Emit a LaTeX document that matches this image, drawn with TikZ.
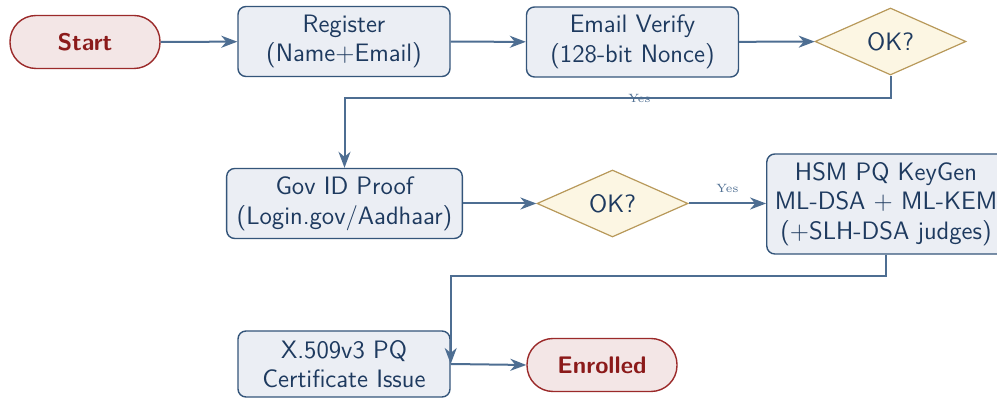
\documentclass[tikz,border=0pt]{standalone}
\usetikzlibrary{shapes.geometric,arrows.meta}
\definecolor{procfill}{HTML}{EBEEF4}
\definecolor{procdraw}{HTML}{34557A}
\definecolor{txt}{HTML}{1E3A5F}
\definecolor{termfill}{HTML}{F3E6E6}
\definecolor{termdraw}{HTML}{9B2A2A}
\definecolor{termtxt}{HTML}{8B1A1A}
\definecolor{decfill}{HTML}{FCF6E3}
\definecolor{decdraw}{HTML}{B8995A}
\definecolor{edge}{HTML}{4E6E92}
\tikzset{
  proc/.style={draw=procdraw, fill=procfill, line width=0.7pt, rounded corners=4pt,
    minimum width=106pt, minimum height=35pt, inner xsep=5pt, align=center,
    text=txt, font=\sffamily\fontsize{12.6}{14.8}\selectfont},
  term/.style={draw=termdraw, fill=termfill, line width=0.7pt, rounded corners=13pt,
    minimum width=75pt, minimum height=26.5pt, text=termtxt, font=\sffamily\large\bfseries},
  dec/.style={diamond, aspect=2.25, draw=decdraw, fill=decfill, line width=0.6pt,
    minimum width=75.5pt, minimum height=33.5pt, inner sep=0pt, text=txt,
    font=\sffamily\fontsize{12.6}{14.8}\selectfont},
  flow/.style={draw=edge, line width=1pt, -{Stealth[length=8pt,width=6pt,inset=2.5pt]}},
  yes/.style={text=edge, font=\fontsize{6}{7}\selectfont, inner sep=1pt}
}
\begin{document}
\begin{tikzpicture}[x=0.5pt,y=-0.5pt]
\useasboundingbox (0,0) rectangle (997,399);

% first row
\node[term] (start) at (85,42) {Start};
\node[proc] (reg) at (344,41.5) {Register\\(Name+Email)};
\node[proc] (ver) at (632.5,42) {Email Verify\\(128-bit Nonce)};
\node[dec] (ok1) at (890.5,41.5) {OK?};

% second row
\node[proc] (gov) at (344.5,203.5) {Gov ID Proof\\(Login.gov/Aadhaar)};
\node[dec] (ok2) at (612.5,203.5) {OK?};
\node[proc, minimum height=50pt, inner xsep=4pt] (hsm) at (886,204)
  {HSM PQ KeyGen\\ML-DSA + ML-KEM\\(+SLH-DSA judges)};

% third row
\node[proc, minimum height=33pt] (cert) at (344,364) {X.509v3 PQ\\Certificate Issue};
\node[term] (end) at (602,365) {Enrolled};

% connectors
\draw[flow] (start) -- (reg);
\draw[flow] (reg) -- (ver);
\draw[flow] (ver) -- (ok1);
\draw[flow] (ok1.south) |- node[yes, pos=0.73] {Yes} (gov.north |- 0,98) -- (gov.north);
\draw[flow] (gov) -- (ok2);
\draw[flow] (ok2.east) -- node[yes, above=4pt] {Yes} (hsm.west |- ok2.east);
\draw[flow] (hsm.south) |- (cert.east |- 0,276) -- (cert.east);
\draw[flow] (cert.east) -- (end.west);
\end{tikzpicture}
\end{document}
